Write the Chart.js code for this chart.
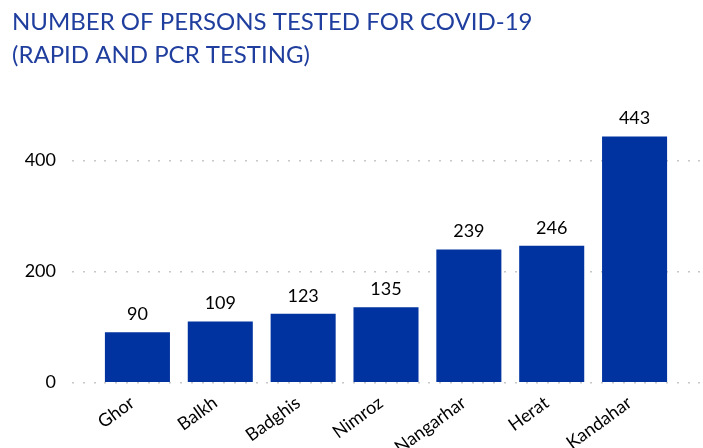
<!DOCTYPE html>
<html><head><meta charset="utf-8">
<script src="https://cdn.jsdelivr.net/npm/chart.js@4.4.1/dist/chart.umd.min.js"></script>
<style>html,body{margin:0;padding:0;background:#fff}#wrap{width:703px;height:448px}</style>
</head><body><div id="wrap"><canvas id="c" width="703" height="448"></canvas></div>
<script>
const categories = ["Ghor","Balkh","Badghis","Nimroz","Nangarhar","Herat","Kandahar"];
const tested = [90,109,123,135,239,246,443];
const yTicks = [0,200,400];
const titleLines = ["NUMBER OF PERSONS TESTED FOR COVID-19","(RAPID AND PCR TESTING)"];

const FONT = "Lato, 'Noto Sans', sans-serif";

const gridPlugin = {
  id: 'dotGrid',
  beforeDatasetsDraw(chart) {
    const ctx = chart.ctx, y = chart.scales.y, a = chart.chartArea;
    ctx.save();
    ctx.fillStyle = '#c8c8c8';
    yTicks.forEach(v => {
      const py = Math.round(y.getPixelForValue(v));
      for (let x = a.left - 24; x <= a.right + 24; x += 10.8) {
        ctx.fillRect(Math.round(x), py, 2, 1.5);
      }
    });
    ctx.restore();
  }
};
const labelPlugin = {
  id: 'valLabels',
  afterDatasetsDraw(chart) {
    const ctx = chart.ctx;
    const meta = chart.getDatasetMeta(0);
    ctx.save();
    ctx.font = "18px " + FONT;
    ctx.fillStyle = '#000';
    ctx.textAlign = 'center';
    ctx.textBaseline = 'bottom';
    meta.data.forEach((el, i) => {
      ctx.fillText(String(tested[i]), el.x, el.y - 9);
    });
    ctx.restore();
  }
};

new Chart(document.getElementById('c'), {
  type: 'bar',
  data: { labels: categories, datasets: [{ data: tested, backgroundColor: '#0033A0', barPercentage: 0.785, categoryPercentage: 1.0 }] },
  options: {
    responsive: false, animation: false,
    layout: { padding: { left: 12, right: 27, top: 0, bottom: 0 } },
    plugins: {
      legend: { display: false }, tooltip: { enabled: false },
      title: { display: true, text: titleLines, align: 'start', color: '#1F3E9E',
        font: { family: FONT, size: 24, weight: 'normal', lineHeight: 1.375 },
        padding: { top: 6, bottom: 33 } }
    },
    scales: {
      y: { min: 0, max: 500, afterFit(s){ s.width = 84; },
        afterBuildTicks(s){ s.ticks = yTicks.map(v => ({ value: v })); },
        grid: { display: false }, border: { display: false },
        ticks: { color: '#000', font: { family: FONT, size: 18 }, padding: 32 } },
      x: { afterFit(s){ s.height = 66; },
        grid: { display: false }, border: { display: false },
        ticks: { color: '#000', font: { family: FONT, size: 18 }, maxRotation: 36, minRotation: 36, padding: 2, labelOffset: -5 } }
    }
  },
  plugins: [gridPlugin, labelPlugin]
});
</script></body></html>
